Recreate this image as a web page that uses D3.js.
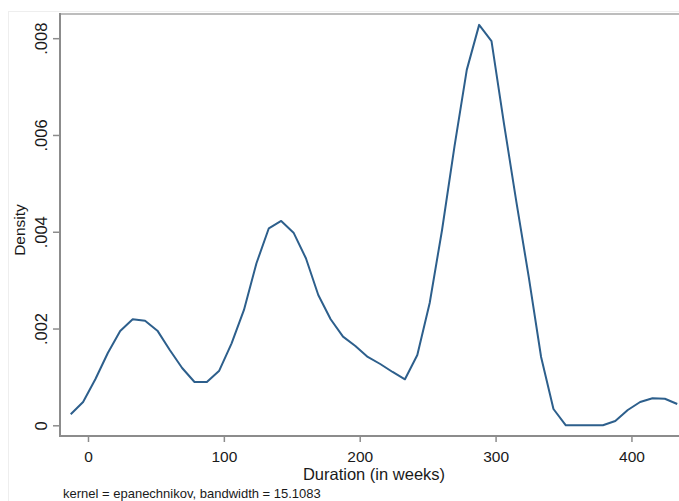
<!DOCTYPE html>
<html>
<head>
<meta charset="utf-8">
<script src="https://cdn.jsdelivr.net/npm/d3@7"></script>
<style>
  html, body { margin: 0; padding: 0; background: #fff; overflow: hidden; }
  svg { display: block; font-family: Arial, "Liberation Sans", sans-serif; }
</style>
</head>
<body>
<svg id="chart" width="679" height="501"></svg>
<script>
// Kernel density estimate (Stata kdensity), 50 evaluation points
const durationWeeks = [
  -12.7, -3.6, 5.5, 14.6, 23.7, 32.9, 42.0, 51.1, 60.2, 69.3,
  78.4, 87.5, 96.6, 105.7, 114.8, 124.0, 133.1, 142.2, 151.3, 160.4,
  169.5, 178.6, 187.7, 196.8, 205.9, 215.1, 224.2, 233.3, 242.4, 251.5,
  260.6, 269.7, 278.8, 287.9, 297.0, 306.2, 315.3, 324.4, 333.5, 342.6,
  351.7, 360.8, 369.9, 379.0, 388.1, 397.3, 406.4, 415.5, 424.6, 433.7
];
const densityValues = [
  0.000227, 0.000482, 0.000957, 0.001495, 0.001949, 0.002191, 0.002162, 0.001956, 0.001557, 0.001185,
  0.000895, 0.000895, 0.001129, 0.001695, 0.002384, 0.003349, 0.004072, 0.004223, 0.003981, 0.003452,
  0.002694, 0.002191, 0.001832, 0.001639, 0.001412, 0.001267, 0.001102, 0.000951, 0.001453, 0.002528,
  0.004037, 0.005753, 0.007345, 0.008275, 0.007938, 0.006229, 0.004616, 0.003066, 0.001412, 0.000337,
  0, 0, 0, 0, 0.000089, 0.000316, 0.000482, 0.000558, 0.000548, 0.000440
];
const xTickValues = [0, 100, 200, 300, 400];
const yTickValues = [0, 0.002, 0.004, 0.006, 0.008];
const yTickLabels = ["0", ".002", ".004", ".006", ".008"];
const xTitle = "Duration (in weeks)";
const yTitle = "Density";
const noteText = "kernel = epanechnikov, bandwidth = 15.1083";

const svg = d3.select("#chart");
const pLeft = 60, pRight = 679, pTop = 14, pBottom = 436;

const x = d3.scaleLinear().domain([-20.6, 435]).range([pLeft, pRight]);
const y = d3.scaleLinear().domain([-0.000221, 0.0085]).range([pBottom, pTop]);

// faint outer graph region
svg.append("rect")
  .attr("x", 8.5).attr("y", 11.5).attr("width", 700).attr("height", 520)
  .attr("fill", "none").attr("stroke", "#eeeeee").attr("stroke-width", 1);

// top border of plot region
svg.append("line")
  .attr("x1", pLeft).attr("x2", pRight + 10).attr("y1", pTop).attr("y2", pTop)
  .attr("stroke", "#bdbdbd").attr("stroke-width", 2);

// Y axis
const yAxis = d3.axisLeft(y)
  .tickValues(yTickValues)
  .tickSize(7)
  .tickPadding(0)
  .tickFormat((d, i) => yTickLabels[i]);
const gy = svg.append("g").attr("transform", `translate(${pLeft},0)`).call(yAxis);
gy.select(".domain").remove();
gy.append("line").attr("x1", 0).attr("x2", 0).attr("y1", pTop - 1).attr("y2", pBottom + 1)
  .attr("stroke", "#8c8c8c").attr("stroke-width", 2);
gy.selectAll(".tick line").attr("stroke", "#8c8c8c").attr("stroke-width", 1.5);
gy.selectAll(".tick text")
  .attr("x", 0).attr("y", 0).attr("dy", 0)
  .attr("transform", "translate(-13,0) rotate(-90)")
  .attr("text-anchor", "middle")
  .attr("font-size", 16.5)
  .attr("fill", "#1a1a1a");

// X axis
const xAxis = d3.axisBottom(x)
  .tickValues(xTickValues)
  .tickSize(6)
  .tickPadding(0)
  .tickFormat(d3.format("d"));
const gx = svg.append("g").attr("transform", `translate(0,${pBottom})`).call(xAxis);
gx.select(".domain").remove();
gx.append("line").attr("x1", pLeft - 1).attr("x2", pRight + 10).attr("y1", 0).attr("y2", 0)
  .attr("stroke", "#8c8c8c").attr("stroke-width", 2);
gx.selectAll(".tick line").attr("stroke", "#8c8c8c").attr("stroke-width", 1.5);
gx.selectAll(".tick text")
  .attr("y", 26).attr("dy", 0)
  .attr("font-size", 15.5)
  .attr("fill", "#1a1a1a");

// density line
const line = d3.line()
  .x((d, i) => x(durationWeeks[i]))
  .y(d => y(d));
svg.append("path")
  .datum(densityValues)
  .attr("d", line)
  .attr("fill", "none")
  .attr("stroke", "#2d5f8c")
  .attr("stroke-width", 2)
  .attr("stroke-linejoin", "round");

// titles
svg.append("text")
  .attr("x", 374).attr("y", 480)
  .attr("text-anchor", "middle")
  .attr("font-size", 16.5)
  .attr("fill", "#1a1a1a")
  .text(xTitle);

svg.append("text")
  .attr("transform", "translate(25,230) rotate(-90)")
  .attr("text-anchor", "middle")
  .attr("font-size", 15.5)
  .attr("fill", "#1a1a1a")
  .text(yTitle);

svg.append("text")
  .attr("x", 63).attr("y", 497.5)
  .attr("font-size", 13)
  .attr("fill", "#1a1a1a")
  .text(noteText);
</script>
</body>
</html>
